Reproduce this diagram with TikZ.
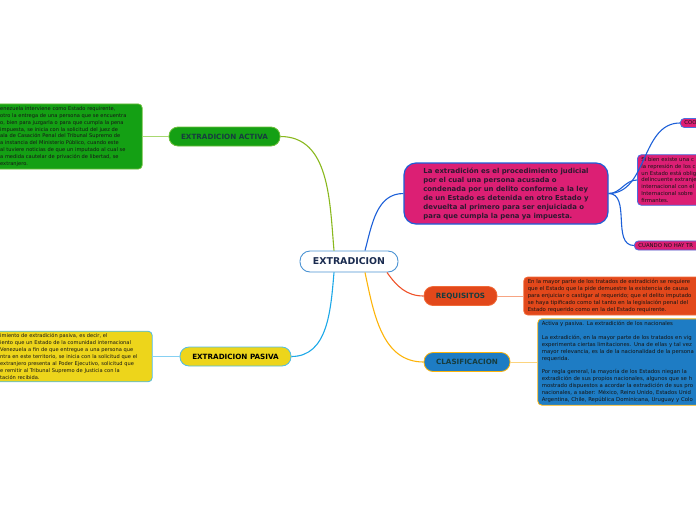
\documentclass[tikz,border=0pt]{standalone}
\usepackage{fontspec}
\setmainfont{DejaVu Sans}
\usetikzlibrary{positioning}
\definecolor{grn}{HTML}{14A014}
\definecolor{grnedge}{HTML}{6DBE3A}
\definecolor{grnline}{HTML}{8AB81E}
\definecolor{grnlight}{HTML}{A8D870}
\definecolor{ylw}{HTML}{EDD51B}
\definecolor{skyedge}{HTML}{4DBCE9}
\definecolor{skyline}{HTML}{1CA8E8}
\definecolor{skylight}{HTML}{86D0F2}
\definecolor{mag}{HTML}{DC1F74}
\definecolor{magedge}{HTML}{4A6FE0}
\definecolor{blueline}{HTML}{1C5FD8}
\definecolor{org}{HTML}{E2481B}
\definecolor{orgedge}{HTML}{F06A38}
\definecolor{orgline}{HTML}{EF5128}
\definecolor{orglight}{HTML}{F7A482}
\definecolor{cls}{HTML}{1E7CC4}
\definecolor{amber}{HTML}{FDB40A}
\definecolor{amberlight}{HTML}{FCD47E}
\definecolor{rootedge}{HTML}{4B93D3}
\definecolor{navy}{HTML}{1A2B4F}
\definecolor{headtxt}{HTML}{173D3F}
\definecolor{deftxt}{HTML}{2E1830}
\definecolor{notetxt}{HTML}{141414}

\begin{document}
\begin{tikzpicture}[x=1pt,y=1pt,node distance=26pt,
topic/.style={draw,rounded corners=9pt,line width=.8pt,minimum height=19pt,inner xsep=0pt,font=\fontsize{7.2}{8}\selectfont\bfseries,text=headtxt},
note/.style={draw,rounded corners=4pt,line width=.8pt,align=left,inner xsep=4pt,inner ysep=2.5pt,font=\fontsize{5.35}{6.9}\selectfont,text=notetxt},
leftnote/.style={note,font=\fontsize{5.1}{6.9}\selectfont},
link/.style={line width=1.1pt},
twig/.style={line width=.9pt}]
\useasboundingbox (0,0) rectangle (696,-520);
\clip (0,0) rectangle (696,-520);

% centre and main topics
\node[draw=rootedge,fill=white,rounded corners=10pt,line width=.9pt,minimum width=98pt,minimum height=21pt,font=\fontsize{9.4}{10}\selectfont\bfseries,text=navy](root) at (349,-261.5){EXTRADICION};
\node[topic,fill=grn,draw=grnedge,minimum width=111pt](activa) at (224.5,-136.5){EXTRADICION ACTIVA};
\node[topic,fill=ylw,draw=skyedge,minimum width=111pt,text=black](pasiva) at (235.5,-356.5){EXTRADICION PASIVA};
\node[draw=blueline,fill=mag,rounded corners=12pt,line width=1.2pt,minimum width=204pt,minimum height=61pt,align=left,font=\fontsize{6.9}{9}\selectfont\bfseries,text=deftxt](def) at (506,-193.5){La extradición es el procedimiento judicial\\por el cual una persona acusada o\\condenada por un delito conforme a la ley\\de un Estado es detenida en otro Estado y\\devuelta al primero para ser enjuiciada o\\para que cumpla la pena ya impuesta.};
\node[topic,fill=org,draw=orgedge,minimum width=73pt](req) at (460.5,-296){REQUISITOS};
\node[topic,fill=cls,draw=amber,minimum width=86pt](clas) at (467,-362){CLASIFICACION};

% notes
\node[leftnote,fill=grn,draw=grnedge,text width=138pt,left=of activa](activatxt){enezuela interviene como Estado requirente,\\otro la entrega de una persona que se encuentra\\o, bien para juzgarla o para que cumpla la pena\\ impuesta, se inicia con la solicitud del juez de\\ala de Casación Penal del Tribunal Supremo de\\a instancia del Ministerio Público, cuando este\\al tuviere noticias de que un imputado al cual se\\a medida cautelar de privación de libertad, se\\ extranjero.};
\node[leftnote,fill=ylw,draw=skyedge,text width=148pt,left=27pt of pasiva](pasivatxt){imiento de extradición pasiva, es decir, el\\iento que un Estado de la comunidad internacional\\ Venezuela a fin de que entregue a una persona que\\ntra en este territorio, se inicia con la solicitud que el\\extranjero presenta al Poder Ejecutivo, solicitud que\\e remitir al Tribunal Supremo de Justicia con la\\tación recibida.};
\node[note,fill=org,draw=orgedge,text width=200pt,right=of req](reqtxt){En la mayor parte de los tratados de extradición se requiere\\que el Estado que la pide demuestre la existencia de causa\\para enjuiciar o castigar al requerido; que el delito imputado\\se haya tipificado como tal tanto en la legislación penal del\\Estado requerido como en la del Estado requirente.};
\node[note,fill=cls,draw=amber,text width=200pt,right=27pt of clas](clastxt){Activa y pasiva. La extradición de los nacionales\\[6.9pt]La extradición, en la mayor parte de los tratados en vig\\experimenta ciertas limitaciones. Una de ellas y tal vez\\mayor relevancia, es la de la nacionalidad de la persona\\requerida.\\[6.9pt]Por regla general, la mayoría de los Estados niegan la\\extradición de sus propios nacionales, algunos que se h\\mostrado dispuestos a acordar la extradición de sus pro\\nacionales, a saber: México, Reino Unido, Estados Unid\\Argentina, Chile, República Dominicana, Uruguay y Colo};
\node[note,fill=mag,draw=magedge,text width=100pt,anchor=west](coo) at (680,-123){COO};
\node[note,fill=mag,draw=magedge,text width=100pt,anchor=west](sibien) at (637,-180){Si bien existe una c\\la represión de los c\\un Estado está oblig\\delincuente extranje\\internacional con el\\Internacional sobre\\firmantes.};
\node[note,fill=mag,draw=magedge,text width=100pt,anchor=west](cuando) at (634,-245.5){CUANDO NO HAY TR};

% branches
\draw[link,grnline] ([xshift=-15pt]root.north) to[out=95,in=0] (activa.east);
\draw[link,skyline] ([xshift=-15pt]root.south) to[out=-95,in=0] (pasiva.east);
\draw[link,blueline] ([xshift=16pt]root.north) to[out=75,in=180] (def.west);
\draw[link,orgline] ([xshift=38pt]root.south) to[out=-55,in=180] (req.west);
\draw[link,amber] ([xshift=16pt]root.south) to[out=-78,in=180] (clas.west);
\draw[link,blueline] (def.east) to[out=0,in=180] (coo.west);
\draw[link,blueline] (def.east) to[out=0,in=180] (sibien.west);
\draw[link,blueline] (def.east) to[out=0,in=180] (cuando.west);
\draw[twig,grnlight] (activa.west) -- (activatxt.east);
\draw[twig,skylight] (pasiva.west) -- (pasivatxt.east);
\draw[twig,orglight] (req.east) -- (reqtxt.west);
\draw[twig,amberlight] (clas.east) -- (clastxt.west);
\end{tikzpicture}
\end{document}
